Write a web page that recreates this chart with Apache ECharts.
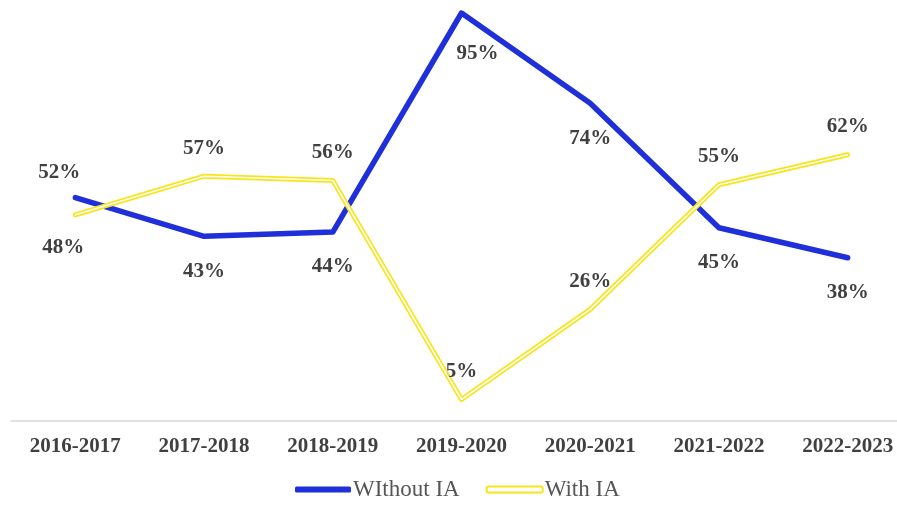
<!DOCTYPE html>
<html>
<head>
<meta charset="utf-8">
<script src="https://cdn.jsdelivr.net/npm/echarts@6/dist/echarts.min.js"></script>
<style>
  html, body { margin: 0; padding: 0; background: #fff; }
  #chart { width: 897px; height: 508px; }
</style>
</head>
<body>
<div id="chart"></div>
<script>
const years = ['2016-2017', '2017-2018', '2018-2019', '2019-2020', '2020-2021', '2021-2022', '2022-2023']
const withoutIA = [52, 43, 44, 95, 74, 45, 38]
const withIA = [48, 57, 56, 5, 26, 55, 62]

const serif = '"Liberation Serif", "Times New Roman", serif'
const blue = '#1f2fd9'
const yellow = '#f7e51a'
const labelStyle = {
    show: true,
    formatter: '{c}%',
    fontFamily: serif,
    fontWeight: 'bold',
    fontSize: 21,
    color: '#404040',
    distance: 18
}

// blue labels sit below the line, except the first one
const withoutData = withoutIA.map((v, i) => {
    let label = { position: 'bottom', distance: 24 }
    if (i === 0) label = { position: 'top', distance: 14, offset: [-16, 0] }
    if (i === 3) label = { position: 'bottom', distance: 30, offset: [16, 0] }
    return { value: v, label: label }
})
// yellow labels sit above the line, except the first one
const withData = withIA.map((v, i) => {
    let label = { position: 'top', distance: 17 }
    if (i === 0) label = { position: 'bottom', distance: 22, offset: [-12, 0] }
    return { value: v, label: label }
})

const chart = echarts.init(document.getElementById('chart'))
chart.setOption({
    animation: false,
    grid: { left: 11, right: -15, top: 13, bottom: 87, outerBoundsMode: 'none' },
    legend: {
        bottom: 2,
        left: 290,
        itemWidth: 56,
        itemHeight: 6,
        itemGap: 26,
        data: [
            { name: 'WIthout IA', icon: 'roundRect', itemStyle: { color: blue, opacity: 1 } },
            { name: 'With IA', icon: 'roundRect', itemStyle: { color: '#fff', borderColor: yellow, borderWidth: 2, opacity: 1 } }
        ],
        textStyle: { fontFamily: serif, fontSize: 23, color: '#555555', padding: [0, 0, 0, -3] }
    },
    xAxis: {
        type: 'category',
        data: years,
        axisLine: { lineStyle: { color: '#d9d9d9', width: 1.5 } },
        axisTick: { show: false },
        axisLabel: { fontFamily: serif, fontWeight: 'bold', fontSize: 21, color: '#404040', margin: 15 }
    },
    yAxis: {
        type: 'value',
        min: 0,
        max: 95,
        show: false,
        splitLine: { show: false }
    },
    series: [
        {
            name: 'WIthout IA',
            type: 'line',
            data: withoutData,
            symbol: 'circle',
            symbolSize: 1,
            itemStyle: { color: 'rgba(0,0,0,0)' },
            lineStyle: { width: 5.5, color: blue, cap: 'round', join: 'round' },
            label: labelStyle,
            z: 2
        },
        {
            name: 'With IA',
            type: 'line',
            data: withData,
            symbol: 'circle',
            symbolSize: 1,
            itemStyle: { color: 'rgba(0,0,0,0)' },
            lineStyle: { width: 5, color: yellow, cap: 'round', join: 'round' },
            label: labelStyle,
            z: 3
        },
        {
            // white core that gives the yellow line its double-stroke look
            name: 'With IA core',
            type: 'line',
            data: withIA,
            symbol: 'none',
            silent: true,
            lineStyle: { width: 1.6, color: '#ffffff', cap: 'round', join: 'round' },
            z: 4
        }
    ]
})
</script>
</body>
</html>
